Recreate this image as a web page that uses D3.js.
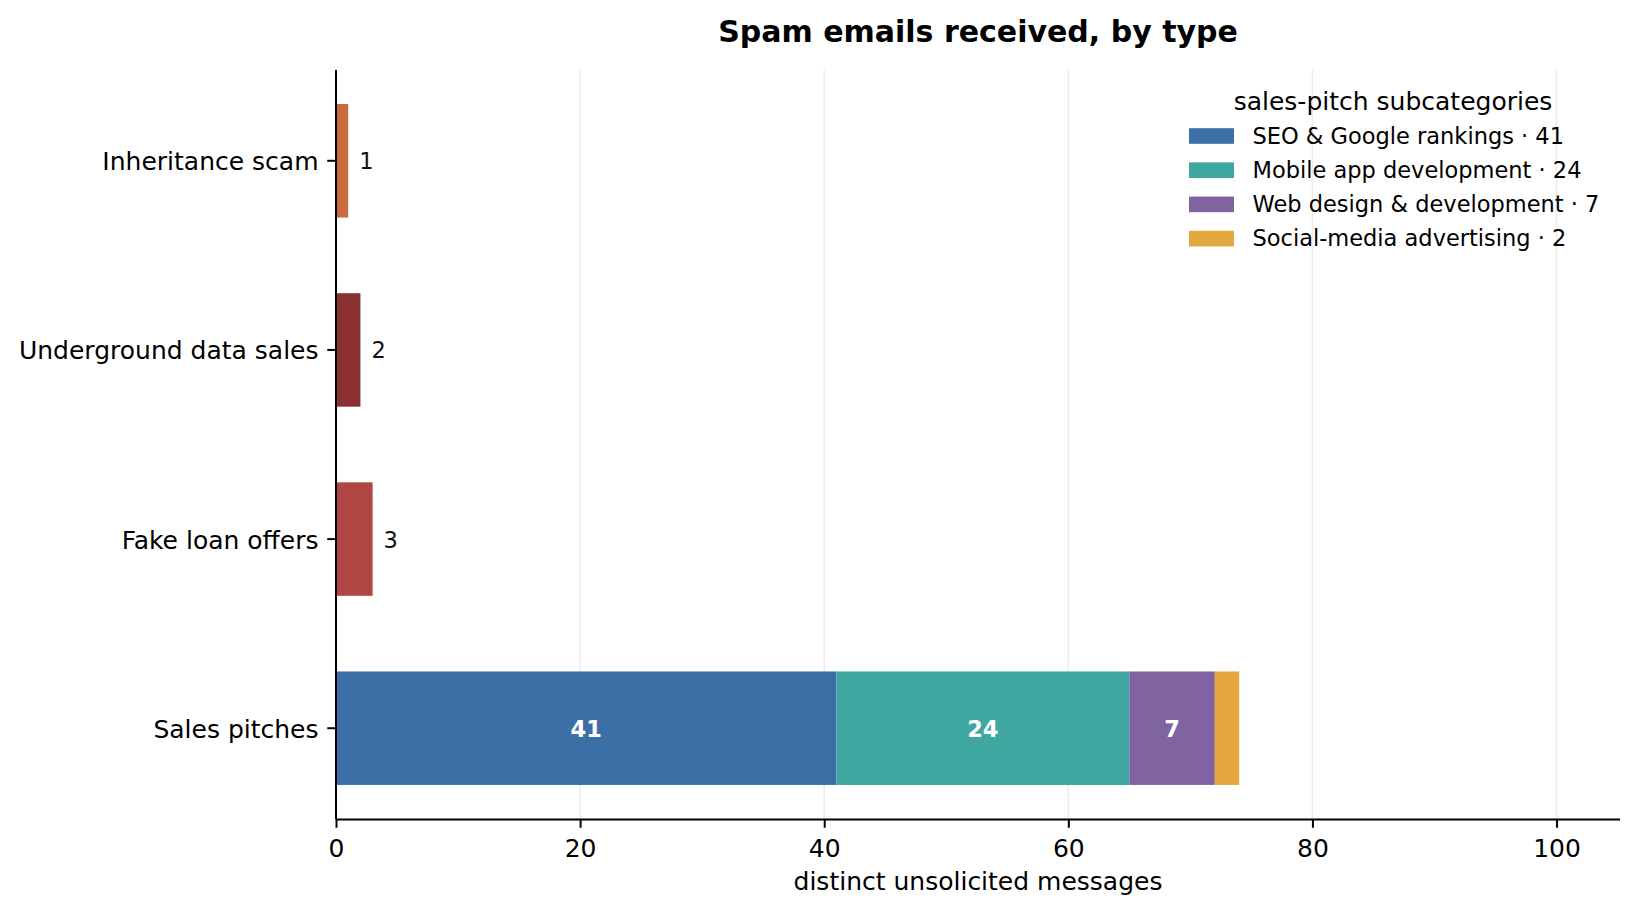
<!DOCTYPE html>
<html>
<head>
<meta charset="utf-8">
<script src="https://cdn.jsdelivr.net/npm/d3@7"></script>
<style>
  body { margin: 0; background: #ffffff; }
  svg { display: block; font-family: "DejaVu Sans", sans-serif; }
</style>
</head>
<body>
<svg id="chart"></svg>
<script>
// categories, bottom to top
const categories = ["Sales pitches", "Fake loan offers", "Underground data sales", "Inheritance scam"];
const singleValues = [null, 3, 2, 1];
const singleColors = [null, "#b04644", "#8b3030", "#c96b3f"];

// stacked parts of the sales-pitch bar
const subcategories = ["SEO & Google rankings", "Mobile app development", "Web design & development", "Social-media advertising"];
const subValues = [41, 24, 7, 2];
const subColors = ["#3d6fa7", "#3ea79f", "#8064a2", "#e5a83f"];

const xTicks = [0, 20, 40, 60, 80, 100];

const W = 1637, H = 912;
const plotL = 336, plotR = 1620, plotT = 70, plotB = 819;

const svg = d3.select("#chart").attr("width", W).attr("height", H);

const x = d3.scaleLinear().domain([0, 105.2]).range([plotL, plotR]);
const y = d3.scaleLinear().domain([-0.48, 3.48]).range([plotB, plotT]);
const barH = y(0) - y(0.6);

// grid
svg.append("g")
    .selectAll("line")
    .data(xTicks.slice(1))
    .enter()
    .append("line")
    .attr("x1", d => x(d)).attr("x2", d => x(d))
    .attr("y1", plotT).attr("y2", plotB)
    .attr("stroke", "#ebebeb")
    .attr("stroke-width", 1.5);

// single bars
const singles = categories.map((c, i) => ({ c, i, v: singleValues[i], color: singleColors[i] }))
    .filter(d => d.v != null);

svg.selectAll(".single")
    .data(singles)
    .enter()
    .append("rect")
    .attr("class", "single")
    .attr("x", x(0))
    .attr("y", d => y(d.i) - barH / 2)
    .attr("width", d => x(d.v) - x(0))
    .attr("height", barH)
    .attr("fill", d => d.color);

svg.selectAll(".single-label")
    .data(singles)
    .enter()
    .append("text")
    .attr("x", d => x(d.v) + 11)
    .attr("y", d => y(d.i) + 8.5)
    .attr("font-size", 22.5)
    .attr("fill", "#111")
    .text(d => d.v);

// stacked sales-pitch bar
let acc = 0;
const stack = subValues.map((v, k) => {
    const s = { start: acc, v, color: subColors[k] };
    acc += v;
    return s;
});

svg.selectAll(".seg")
    .data(stack)
    .enter()
    .append("rect")
    .attr("x", d => x(d.start))
    .attr("y", y(0) - barH / 2)
    .attr("width", d => x(d.start + d.v) - x(d.start))
    .attr("height", barH)
    .attr("fill", d => d.color);

svg.selectAll(".seg-label")
    .data(stack.filter(d => d.v >= 5))
    .enter()
    .append("text")
    .attr("x", d => x(d.start + d.v / 2))
    .attr("y", y(0) + 8.5)
    .attr("text-anchor", "middle")
    .attr("font-size", 22.5)
    .attr("font-weight", "bold")
    .attr("fill", "#ffffff")
    .text(d => d.v);

// axes
const xAxis = d3.axisBottom(x).tickValues(xTicks).tickSize(8.75).tickPadding(5);
const gx = svg.append("g").attr("transform", `translate(0,${plotB})`).call(xAxis);
gx.select(".domain").attr("d", `M${plotL},0.5H${plotR}`).attr("stroke", "#000").attr("stroke-width", 2);
gx.selectAll(".tick line").attr("stroke", "#000").attr("stroke-width", 2);
gx.selectAll(".tick text")
    .attr("font-size", 25).attr("font-family", "DejaVu Sans").attr("fill", "#000")
    .attr("dy", null).attr("y", 37.5);

const gy = svg.append("g").attr("transform", `translate(${plotL},0)`);
gy.append("line").attr("x1", 0).attr("x2", 0).attr("y1", plotT).attr("y2", plotB)
    .attr("stroke", "#000").attr("stroke-width", 2);
const yt = gy.selectAll(".ytick").data(categories).enter().append("g")
    .attr("transform", (d, i) => `translate(0,${y(i)})`);
yt.append("line").attr("x1", -8.75).attr("x2", 0).attr("stroke", "#000").attr("stroke-width", 2);
yt.append("text")
    .attr("x", -17.5).attr("y", 9.5)
    .attr("text-anchor", "end")
    .attr("font-size", 25).attr("fill", "#000")
    .text(d => d);

// labels
svg.append("text")
    .attr("x", (plotL + plotR) / 2).attr("y", 890)
    .attr("text-anchor", "middle").attr("font-size", 25).attr("fill", "#000")
    .text("distinct unsolicited messages");

svg.append("text")
    .attr("x", (plotL + plotR) / 2).attr("y", 42)
    .attr("text-anchor", "middle").attr("font-size", 30).attr("font-weight", "bold").attr("fill", "#000")
    .text("Spam emails received, by type");

// legend
const lg = svg.append("g");
lg.append("text")
    .attr("x", 1393).attr("y", 110)
    .attr("text-anchor", "middle").attr("font-size", 25).attr("fill", "#000")
    .text("sales-pitch subcategories");

const rows = lg.selectAll(".row")
    .data(subcategories)
    .enter()
    .append("g")
    .attr("transform", (d, i) => `translate(1189,${136 + i * 34.2})`);
rows.append("rect")
    .attr("x", 0).attr("y", -7.8).attr("width", 45).attr("height", 15.6)
    .attr("fill", (d, i) => subColors[i]);
rows.append("text")
    .attr("x", 63.5).attr("y", 7.8)
    .attr("font-size", 22.5).attr("fill", "#000")
    .text((d, i) => `${d} · ${subValues[i]}`);
</script>
</body>
</html>
